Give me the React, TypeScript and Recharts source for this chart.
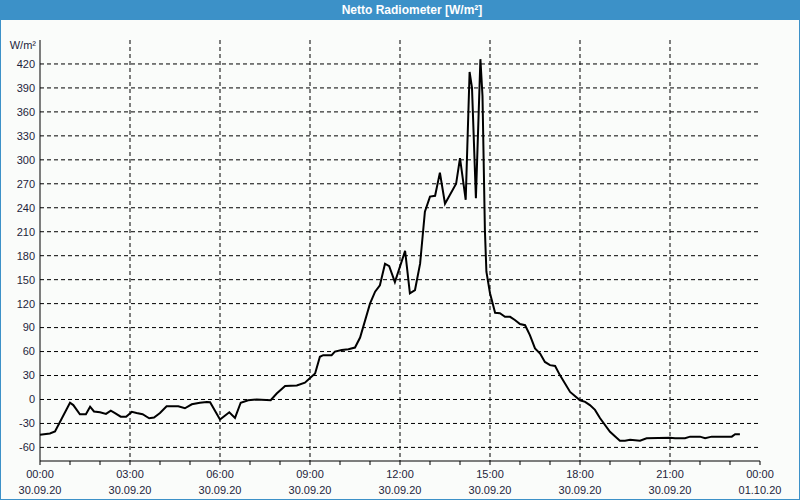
import React from 'react';
import {
  LineChart,
  Line,
  XAxis,
  YAxis,
  CartesianGrid,
} from 'recharts';

// hours since 00:00 on 30.09.20
const hours = [
  0, 0.33, 0.5, 1.0, 1.11, 1.33, 1.53, 1.67, 1.8, 2.0, 2.2, 2.36, 2.5, 2.69, 2.87,
  3.06, 3.22, 3.42, 3.64, 3.8, 4.0, 4.22, 4.61, 4.83, 5.06, 5.33, 5.56, 5.67, 6.0,
  6.31, 6.5, 6.69, 6.94, 7.22, 7.69, 7.89, 8.17, 8.56, 8.83, 9.17, 9.33, 9.44, 9.72,
  9.83, 10.06, 10.28, 10.5, 10.67, 11.0, 11.17, 11.33, 11.5, 11.64, 11.83, 12.17,
  12.33, 12.5, 12.67, 12.83, 13.0, 13.17, 13.33, 13.5, 13.87, 14.0, 14.19, 14.32,
  14.4, 14.53, 14.68, 14.75, 14.83, 14.88, 15.0, 15.17, 15.33, 15.5, 15.67, 15.83,
  16.0, 16.17, 16.33, 16.5, 16.67, 16.83, 17.0, 17.17, 17.33, 17.67, 18.0, 18.17,
  18.33, 18.5, 18.67, 19.0, 19.33, 19.5, 19.67, 20.0, 20.22, 21.0, 21.17, 21.5,
  21.67, 22.0, 22.17, 22.39, 23.06, 23.17, 23.33,
];

// W/m²
const netRadiation = [
  -44, -42.5, -40, -4, -7, -18.5, -18.5, -9, -15, -16, -18, -14, -17, -21.5, -21.5,
  -15.5, -17, -18.5, -23.5, -22.5, -17, -8.5, -8.5, -11, -6, -4, -3, -3.5, -25,
  -16, -23, -4, -1, 0, -1, 7.5, 17, 17.5, 21, 32.5, 53.5, 55.5, 55.5,
  60, 62, 63, 65, 77.5, 120, 135, 143, 170, 167, 147, 186,
  133, 137, 170, 235, 254, 255, 284, 245, 270, 302, 250, 410,
  390, 252, 426, 380, 212, 160, 133, 108.5, 108, 103.5, 103.5, 99.5,
  94.5, 93, 80.5, 64, 57.5, 47, 43, 42, 30.5, 9.5, -1, -3,
  -7, -13, -23.5, -40.5, -51.5, -51.5, -50.5, -51.5, -48.5, -48, -48.5, -48.5,
  -46.5, -46.5, -48.5, -46.5, -46.5, -43.5, -43.5,
];

const hourTicks = Array.from({ length: 25 }, (_, i) => i);
const gridHours = [3, 6, 9, 12, 15, 18, 21];
const yTicks = [-60, -30, 0, 30, 60, 90, 120, 150, 180, 210, 240, 270, 300, 330, 360, 390, 420];

const timeLabels: Record<number, string> = {
  0: '00:00', 3: '03:00', 6: '06:00', 9: '09:00', 12: '12:00',
  15: '15:00', 18: '18:00', 21: '21:00', 24: '00:00',
};
const dateLabels: Record<number, string> = {
  0: '30.09.20', 3: '30.09.20', 6: '30.09.20', 9: '30.09.20', 12: '30.09.20',
  15: '30.09.20', 18: '30.09.20', 21: '30.09.20', 24: '01.10.20',
};

const data = hours.map((h, i) => ({ h, v: netRadiation[i] }));

const FONT = '"Liberation Sans", Arial, sans-serif';
const TEXT = '#1e1e3c';
const BLUE = '#3c91c8';

const TimeTick = (props: any) => {
  const { x, y, payload } = props;
  const h = payload.value;
  if (timeLabels[h] === undefined) return null;
  return (
    <text x={x} y={y} textAnchor="middle" fill={TEXT} fontSize={11} fontFamily={FONT}>
      <tspan x={x} dy={13}>{timeLabels[h]}</tspan>
      <tspan x={x} dy={16}>{dateLabels[h]}</tspan>
    </text>
  );
};

export default function App() {
  return (
    <div
      style={{
        position: 'fixed',
        left: 0,
        top: 0,
        width: 800,
        height: 500,
        boxSizing: 'border-box',
        border: `1px solid ${BLUE}`,
        borderTop: 'none',
        background: '#fafcfa',
        fontFamily: FONT,
      }}
    >
      <div
        style={{
          position: 'absolute',
          left: -1,
          top: 0,
          width: 800,
          height: 20,
          background: BLUE,
          color: '#fff',
          fontWeight: 'bold',
          fontSize: 12,
          lineHeight: '21px',
          textAlign: 'center',
          paddingLeft: 24,
          boxSizing: 'border-box',
        }}
      >
        Netto Radiometer [W/m²]
      </div>
      <div
        style={{
          position: 'absolute',
          left: 0,
          top: 39,
          width: 35,
          textAlign: 'right',
          fontSize: 11,
          color: TEXT,
        }}
      >
        W/m²
      </div>
      <div style={{ position: 'absolute', left: -1, top: 0 }}>
        <LineChart
          width={800}
          height={500}
          data={data}
          margin={{ top: 40, right: 40, bottom: 0, left: 0 }}
        >
          <CartesianGrid
            stroke="#000"
            strokeDasharray="4 3"
            verticalValues={gridHours}
            horizontalValues={yTicks}
          />
          <XAxis
            dataKey="h"
            type="number"
            domain={[0, 24]}
            ticks={hourTicks}
            interval={0}
            height={39}
            tickSize={4}
            tickMargin={0}
            stroke="#000"
            tick={<TimeTick />}
          />
          <XAxis
            xAxisId="top"
            orientation="top"
            dataKey="h"
            type="number"
            domain={[0, 24]}
            height={0}
            tick={false}
            tickLine={false}
            stroke="#000"
          />
          <YAxis
            type="number"
            domain={[-77, 450]}
            ticks={yTicks}
            interval={0}
            width={40}
            tickLine={false}
            tickSize={0}
            tickMargin={5}
            stroke="#000"
            tick={{ fill: TEXT, fontSize: 11, fontFamily: FONT }}
          />
          <YAxis
            yAxisId="right"
            orientation="right"
            type="number"
            domain={[-77, 450]}
            width={0}
            tick={false}
            tickLine={false}
            stroke="#000"
          />
          <Line
            type="linear"
            dataKey="v"
            stroke="#000"
            strokeWidth={2}
            dot={false}
            isAnimationActive={false}
          />
        </LineChart>
      </div>
    </div>
  );
}
